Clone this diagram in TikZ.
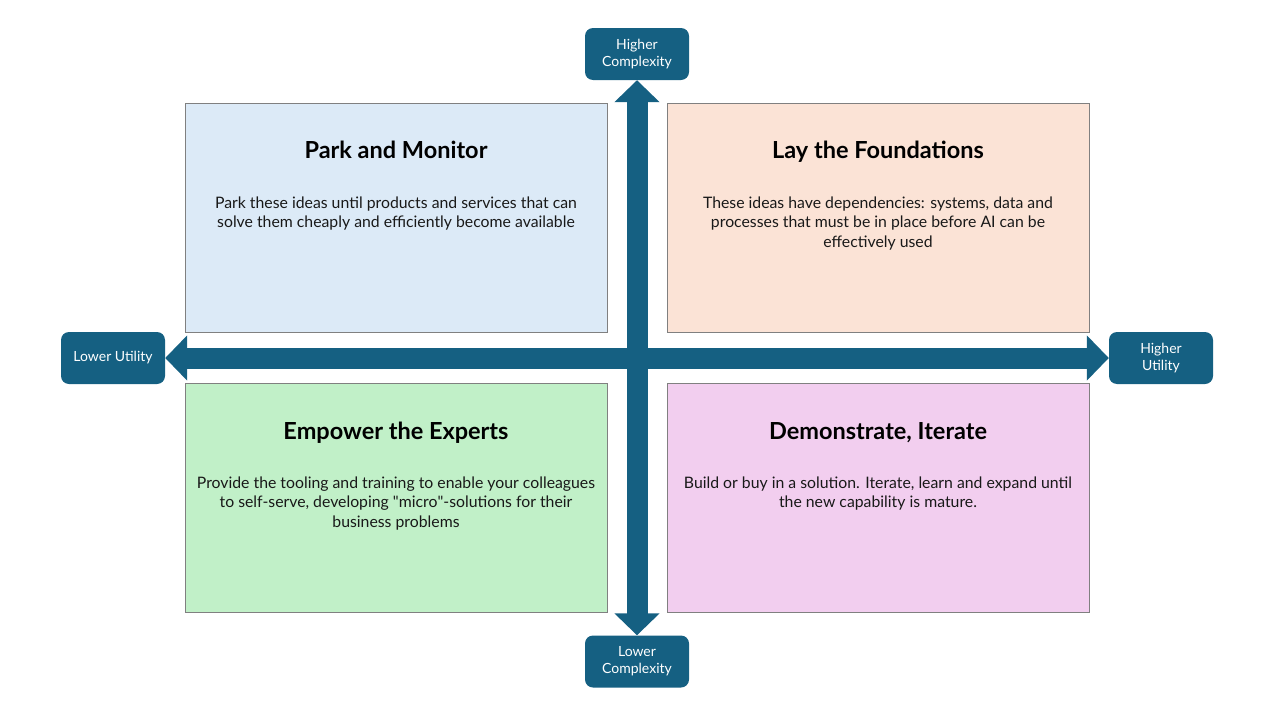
\documentclass[tikz,border=0pt]{standalone}
\usepackage{fontspec}
\setmainfont{Lato}
\newfontfamily\rawlato{Lato}[Ligatures=TeXOff]
\usetikzlibrary{arrows.meta}
\definecolor{teal}{HTML}{156082}
\definecolor{fblue}{HTML}{DCEAF7}
\definecolor{fpeach}{HTML}{FBE3D6}
\definecolor{fgreen}{HTML}{C1F0C8}
\definecolor{fpink}{HTML}{F2CEEF}
\definecolor{bord}{HTML}{808080}
\begin{document}
\begin{tikzpicture}[x=1pt,y=-1pt,
  quad/.style={draw=bord, line width=0.8pt, minimum width=422pt, minimum height=229pt, inner sep=0pt},
  lab/.style={fill=teal, rounded corners=8pt, minimum width=104pt, minimum height=52pt, inner sep=0pt, text=white, font=\fontsize{14}{17}\selectfont, align=center},
  ttl/.style={font=\fontsize{23.5}{27}\selectfont\bfseries, text=black, anchor=base},
  body/.style={font=\fontsize{15.8}{19.6}\selectfont, align=center, text=black!90, anchor=north},
  axis/.style={draw=teal, line width=21pt, {Triangle[length=22pt,width=44pt]}-{Triangle[length=22pt,width=44pt]}}
]
\useasboundingbox (0,0) rectangle (1280,720);
\node[quad, fill=fblue] (q1) at (396,217.5) {};
\node[quad, fill=fpeach] (q2) at (878,217.5) {};
\node[quad, fill=fgreen] (q3) at (396,498) {};
\node[quad, fill=fpink] (q4) at (878,498) {};

\node[ttl] (t1) at (396,158) {Park and Monitor};
\node[ttl] (t2) at (878,158) {Lay the Foundations};
\node[ttl] (t3) at (396,439) {Empower the Experts};
\node[ttl] (t4) at (878,439) {Demonstrate, Iterate};

\node[body] (b1) at (396,193) {Park these ideas until products and services that can\\solve them cheaply and efficiently become available};
\node[body] (b2) at (878,193) {These ideas have dependencies: systems, data and\\processes that must be in place before AI can be\\effectively used};
\node[body] (b3) at (396,473) {Provide the tooling and training to enable your colleagues\\to self-serve, developing {\rawlato"}micro{\rawlato"}-solutions for their\\business problems};
\node[body] (b4) at (878,473) {Build or buy in a solution. Iterate, learn and expand until\\the new capability is mature.};

\node[lab] (hc) at (637,54) {Higher\\Complexity};
\node[lab] (lc) at (637,661.5) {Lower\\Complexity};
\node[lab] (lu) at (113,358) {Lower Utility};
\node[lab] (hu) at (1161,358) {Higher\\Utility};

\draw[axis] (hc.south) -- (lc.north);
\draw[axis] (lu.east) -- (hu.west);
\end{tikzpicture}
\end{document}
